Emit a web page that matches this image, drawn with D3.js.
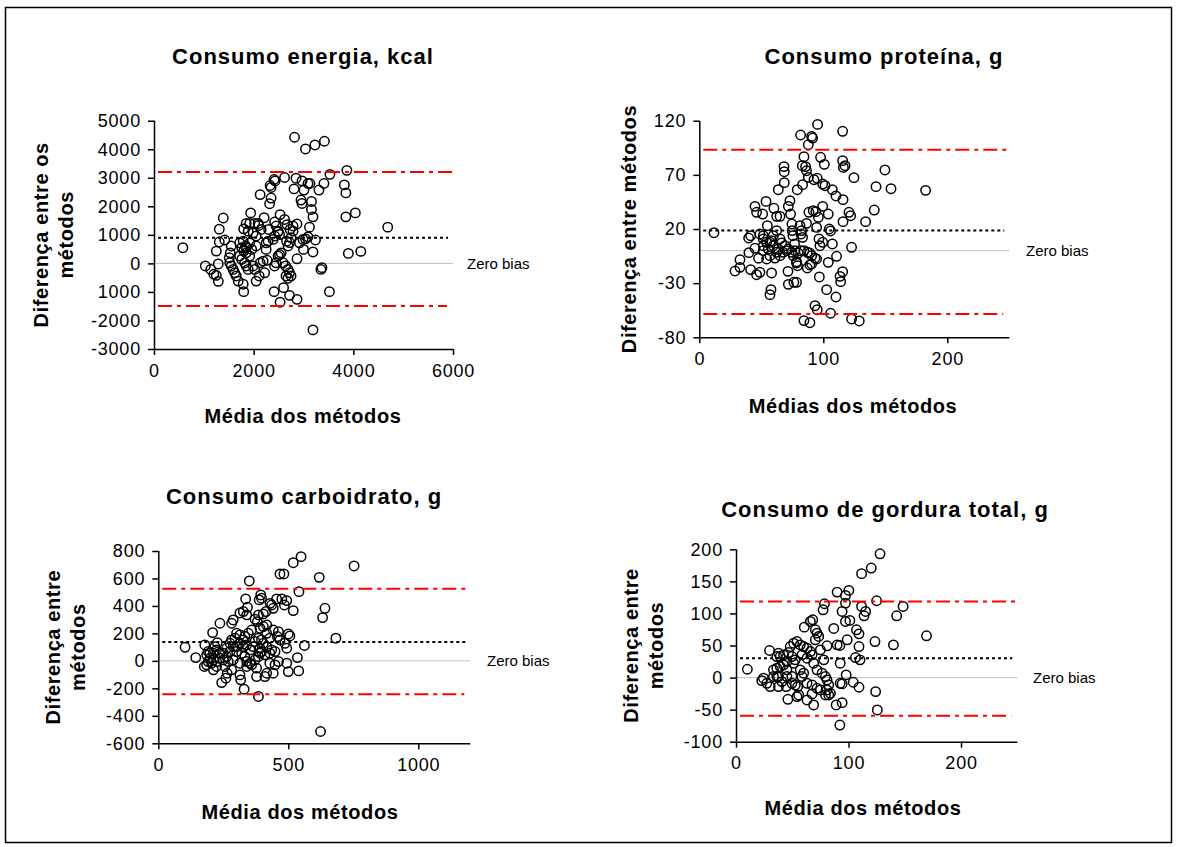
<!DOCTYPE html>
<html>
<head>
<meta charset="utf-8">
<script src="https://cdnjs.cloudflare.com/ajax/libs/d3/7.8.5/d3.min.js"></script>
<style>
    body { margin: 0; background: #fff; }
    svg { display: block; font-family: "Liberation Sans", Arial, sans-serif; }
    .title { font-size: 22px; font-weight: bold; letter-spacing: 1px; }
    .axis-title { font-size: 20px; font-weight: bold; letter-spacing: 0.6px; }
    .zero-label { font-size: 15px; }
</style>
</head>
<body>
<div id="chart"></div>
<script>
// ---- data ----
const panelTitles = ["Consumo energia, kcal", "Consumo proteína, g", "Consumo carboidrato, g", "Consumo de gordura total, g"];
const xTitles = ["Média dos métodos", "Médias dos métodos", "Média dos métodos", "Média dos métodos"];
const yTitles = [["Diferença entre os", "métodos"], ["Diferença entre métodos"], ["Diferença entre", "métodos"], ["Diferença entre", "métodos"]];
const zeroLabel = "Zero bias";

// [mean, difference]
const energyPoints = [
    [2820,4420],[3040,4010],[3230,4150],[3420,4280],[3870,3260],[3530,3120],[2850,2985],[2620,3010],[2410,2940],[2430,2890],
    [2330,2730],[2350,2660],[2970,2890],[3090,2800],[3130,2800],[2810,2610],[3010,2570],[3310,2570],[3410,2800],[3820,2750],
    [3850,2470],[2130,2410],[2350,2290],[2320,2090],[2950,2220],[2970,2100],[3160,2170],[3160,1890],[3190,1630],[3850,1630],
    [4040,1770],[4690,1270],[1390,1590],[1310,1200],[1310,750],[1420,820],[1250,430],[1030,-90],[1140,-210],[1200,-380],
    [1250,-420],[1290,-630],[1290,-20],[580,550],[1940,1770],[1850,1400],[1920,1400],[2020,1400],[2090,1400],[2210,1600],
    [1800,1210],[1890,1130],[1990,1070],[2050,960],[2100,1330],[2150,1190],[2300,1190],[2420,1450],[2450,1310],[2490,1130],
    [2520,1010],[2530,1710],[2620,1540],[2670,1360],[2730,1190],[2790,1310],[2870,1380],[2790,1130],[2750,900],[2720,730],
    [2690,610],[3040,860],[3090,930],[3240,820],[3120,1270],[3000,490],[3190,400],[3900,350],[4150,420],[3350,-210],
    [3370,-150],[3520,-990],[2870,160],[2250,720],[2290,780],[2250,490],[2050,610],[1720,720],[1790,780],[1840,610],
    [1760,550],[1800,430],[1850,370],[1920,260],[1550,610],[1530,370],[1510,200],[1520,20],[1550,-90],[1590,-210],
    [1620,-330],[1650,-440],[1690,-620],[1790,-730],[1800,-990],[2050,-620],[2110,-440],[2220,-330],[1990,-90],[2020,-210],
    [1720,260],[1760,140],[1820,20],[1850,-90],[1890,-210],[2130,20],[2190,80],[2270,110],[2420,-90],[2450,20],
    [2490,260],[2520,310],[2550,370],[2590,20],[2640,-90],[2690,-210],[2720,-330],[2750,-440],[2650,-440],[2690,-520],
    [2410,-990],[2600,-850],[2530,-1360],[2720,-1120],[2870,-1260],[3190,-2330],[2390,840],[2420,960],[2490,1100],[2990,840],
    [2920,720],[2660,780],[1920,720],[1960,490],[1850,550]
];

const proteinPoints = [
    [11.8,16.6],[95.4,116.6],[115.6,110.2],[81.7,106.8],[90.6,105.5],[91.4,104],[87.9,97.8],[84.4,86.8],[83.1,78.5],[85.7,77.6],
    [86.5,73.8],[97.8,86.2],[100.8,79.7],[115.6,83.1],[116.2,76.9],[117.5,78.5],[149.7,74.5],[124.7,67.4],[68.3,77.6],[68.5,72.9],
    [68.5,62.8],[63.7,56.3],[79,56.3],[83.3,60.9],[87.9,67.7],[92.5,65.5],[95.1,66.8],[99.5,61.5],[101.4,60],[107.3,56.3],
    [110.2,50.5],[115.9,47.1],[142.5,59.1],[154.6,57.2],[182.5,55.7],[141.1,37.5],[120.7,35.4],[122,32.3],[134.1,26.8],[115.9,26.8],
    [104.8,20],[105.8,18.2],[122.8,3.1],[110.7,-5.2],[104,-10.8],[115.6,-19.4],[113.5,-23.7],[114,-28.6],[102.7,-36],[110.2,-42.8],
    [93.3,-50.8],[95.1,-54.5],[105.9,-57.8],[84.4,-64.6],[89.2,-66.5],[122.8,-63.1],[129,-64.9],[96.8,-24.3],[71.8,-31.1],[76.3,-29.2],
    [78.4,-29.2],[57.8,-36],[57,-40.6],[71.5,-19.1],[78.4,-10.2],[79.2,-13.9],[58.3,-20.6],[48.9,-20],[46.2,-22.2],[41.4,-17.5],
    [28.8,-18.8],[32.8,-15.4],[32.8,-8.3],[40,-1.8],[44.9,2.2],[47.8,-7],[39.8,11.7],[41.4,13.8],[51.6,13.8],[51.6,10.8],
    [44.9,40.9],[46.2,35.4],[51.1,33.8],[53.8,45.5],[60.2,39.1],[62.4,31.7],[65.1,31.7],[71.8,40.9],[73.1,46.2],[73.6,33.8],
    [54.9,23.1],[74.7,24.6],[74.9,18.5],[75.5,13.8],[76.8,6.2],[81.2,23.1],[82.5,18.5],[82,15.4],[83.3,12.3],[86.5,25.2],
    [88.4,35.4],[91.9,36.9],[94,36],[96,30.8],[99.5,40.9],[104,33.8],[94.6,21.5],[96.5,10.8],[97.3,4.6],[81.7,0],
    [84.4,0],[87.1,-1.5],[89.2,-2.2],[90.6,-4.6],[78.4,-11.4],[87.1,-16],[89.2,-13.2],[90.6,-12.3],[93.3,-7],[94.6,-7.7],
    [107.3,6.2],[99.5,7.7],[62.4,18.5],[59.7,13.8],[57,7.7],[59.7,4.6],[62.4,-1.5],[57,-4.6],[61,-6.8],[63.7,1.5],
    [66.4,7.1],[69.1,4.6],[70.4,0],[54.3,7.7],[51.6,4.6],[55.6,1.5],[58.3,9.2],[65.1,10.8],[67.7,-1.5],[71.8,1.5],
    [74.5,-1.5],[65.1,-4.6],[48.9,15.4],[51.6,0],[54.3,-7.7],[75.8,-4.6],[77.1,0],[79.8,-2.2]
];

const carbPoints = [
    [549,759],[519,715],[468,633],[483,633],[619,608],[753,691],[350,582],[541,504],[641,383],[632,315],
    [683,165],[562,112],[535,24],[540,-73],[624,-514],[385,-259],[330,-206],[394,480],[397,456],[388,444],
    [336,451],[343,390],[455,451],[475,451],[494,439],[485,407],[436,407],[430,419],[442,383],[519,366],
    [414,359],[404,342],[385,335],[372,303],[381,286],[314,349],[327,359],[340,335],[288,298],[282,274],
    [237,274],[209,206],[227,133],[218,104],[103,99],[144,24],[177,-41],[186,-29],[179,116],[192,68],
    [199,19],[205,-17],[212,-65],[244,-158],[260,-126],[265,-90],[282,-65],[314,-102],[317,-138],[378,-53],
    [378,-114],[410,-114],[417,-90],[442,-90],[429,-17],[449,-29],[462,-5],[494,-17],[500,-78],[494,92],
    [487,128],[468,153],[458,177],[442,225],[462,213],[500,196],[506,182],[417,201],[429,165],[404,128],
    [391,92],[397,68],[385,32],[372,7],[353,-17],[340,-5],[333,32],[321,56],[301,68],[288,104],
    [276,128],[263,92],[250,56],[237,19],[224,-5],[212,7],[199,56],[417,262],[404,250],[391,238],
    [359,225],[346,201],[333,177],[314,189],[301,201],[295,165],[282,153],[365,104],[353,80],[327,104],
    [314,128],[301,104],[276,68],[263,32],[250,7],[237,56],[224,80],[212,56],[186,44],[192,-5],
    [224,-41],[256,-41],[269,-5],[288,7],[314,-17],[340,-41],[359,-29],[327,153],[340,116],[372,141],
    [385,165],[397,153],[417,104],[436,80],[449,68],[391,56],[410,44],[429,56]
];

const fatPoints = [
    [10.1,13],[128,193],[120.2,170.8],[111.6,162],[89.9,133.3],[100.3,135.9],[97.3,128.1],[78.6,115.1],[77.4,105.7],[125,119.8],
    [111.6,110.9],[115.2,103.1],[113.8,96.3],[94.3,103.1],[97.3,116.1],[148.5,110.9],[142.8,96.3],[169.3,65.1],[139.9,51],[123.5,56.2],
    [97.3,87.5],[101.2,89.1],[86.9,76.6],[107.1,74.5],[109.3,68.2],[98.8,58.9],[109.3,48.4],[110.2,27.6],[106.2,31.2],[89.9,51],
    [92.3,50],[92.6,22.4],[92.6,-8.9],[94.3,-39.1],[89,-42.7],[92.3,-74],[97.9,4.2],[94.3,-9.9],[104.2,-7.3],[109.3,-15.1],
    [124.1,-21.9],[125.6,-50.5],[68.2,90.1],[66.1,87.5],[60.7,78.6],[70.5,74.5],[72,69.3],[73.5,64.1],[70.5,58.9],[80.9,49.5],
    [75,43.2],[78,27.6],[69,22.4],[72,12],[76.5,6.8],[79.5,1.6],[80.9,-3.6],[82.4,-11.5],[80.9,-19.3],[82.4,-27.1],
    [83.9,-24.5],[79.5,-27.1],[75,-19.3],[72,-16.7],[69,-42.7],[63.1,-34.9],[67.6,-25.5],[67.6,-11.5],[63.1,-8.9],[58.6,1.6],
    [54.8,-14.1],[55.7,-27.1],[54.2,-29.7],[46.1,-33.9],[44.6,-14.1],[45.2,12],[52.7,27.6],[57.1,12],[60.1,6.8],[49.7,1.6],
    [45.2,1.6],[29.8,42.2],[37.8,38],[36.3,32.8],[39.3,32.8],[42.3,35.4],[46.7,39.1],[49.7,32.8],[51.2,22.4],[45.2,25],
    [42.3,19.8],[39.3,17.2],[36.3,14.6],[33.3,12],[48.2,48.4],[51.2,53.6],[54.2,56.2],[57.1,51],[60.1,48.4],[63.1,45.8],
    [66.1,40.6],[67.6,35.4],[63.1,30.2],[58.6,35.4],[37.8,1.6],[37.8,-14.1],[30.4,-14.1],[27.4,-8.9],[24.4,-1],[22.9,-4.7],
    [33.3,1.6],[36.3,1.6],[40.8,-6.3],[49.7,-8.9],[52.7,-11.5]
];

// bias line and limits of agreement: [bias, upper, lower]
const energyLines = [900, 3206, -1490];
const proteinLines = [18.5, 93.2, -58.5];
const carbLines = [138, 526, -242];
const fatLines = [30.2, 118.7, -59.4];

// axis domains and ticks
const xDomains = [[0, 6000], [0, 250], [0, 1200], [0, 250]];
const yDomains = [[-3000, 5000], [-80, 120], [-600, 800], [-100, 200]];
const xTicks = [[0, 2000, 4000, 6000], [0, 100, 200], [0, 500, 1000], [0, 100, 200]];
const yTicks = [
    [-3000, -2000, -1000, 0, 1000, 2000, 3000, 4000, 5000],
    [-80, -30, 20, 70, 120],
    [-600, -400, -200, 0, 200, 400, 600, 800],
    [-100, -50, 0, 50, 100, 150, 200]
];
// the picture shows the -1000 label without its minus sign
const energyYLabels = ["-3000", "-2000", "1000", "0", "1000", "2000", "3000", "4000", "5000"];

// ---- layout ----
const W = 1178, H = 847;
const frames = [
    { l: 154, r: 453, t: 120.7, b: 349, titleX: 303, titleY: 64, xTitleX: 303, xTitleY: 423, yTitleX: [48, 73], zeroX: 467 },
    { l: 699.3, r: 1009.3, t: 120.7, b: 337.3, titleX: 884, titleY: 64, xTitleX: 853, xTitleY: 413, yTitleX: [636], zeroX: 1026 },
    { l: 158.3, r: 470.3, t: 551, b: 743.3, titleX: 304, titleY: 504, xTitleX: 300, xTitleY: 819, yTitleX: [60, 85], zeroX: 487 },
    { l: 736, r: 1017.3, t: 549.3, b: 741.7, titleX: 885, titleY: 517, xTitleX: 863, xTitleY: 815, yTitleX: [638, 663], zeroX: 1033 }
];

const svg = d3.select("#chart").append("svg")
    .attr("width", W)
    .attr("height", H);

// outer frame
svg.append("rect")
    .attr("x", 5.5).attr("y", 7.5)
    .attr("width", 1166).attr("height", 835)
    .attr("fill", "none")
    .attr("stroke", "#000")
    .attr("stroke-width", 1.5);

const allPoints = [energyPoints, proteinPoints, carbPoints, fatPoints];
const allLines = [energyLines, proteinLines, carbLines, fatLines];

function drawPanel(i) {
    const f = frames[i];
    const g = svg.append("g").attr("class", "panel");

    const x = d3.scaleLinear().domain(xDomains[i]).range([f.l, f.r]);
    const y = d3.scaleLinear().domain(yDomains[i]).range([f.b, f.t]);

    // zero line
    g.append("line")
        .attr("x1", f.l).attr("x2", f.r)
        .attr("y1", y(0)).attr("y2", y(0))
        .attr("stroke", "#c0c0c0").attr("stroke-width", 1);

    // points
    g.selectAll("circle")
        .data(allPoints[i])
        .enter().append("circle")
        .attr("cx", d => x(d[0]))
        .attr("cy", d => y(d[1]))
        .attr("r", 4.7)
        .attr("fill", "none")
        .attr("stroke", "#000")
        .attr("stroke-width", 1.5);

    const [bias, upper, lower] = allLines[i];

    // bias (dotted)
    g.append("line")
        .attr("x1", f.l + 4).attr("x2", f.r - 5)
        .attr("y1", y(bias)).attr("y2", y(bias))
        .attr("stroke", "#000").attr("stroke-width", 2)
        .attr("stroke-dasharray", "3,3");

    // limits of agreement (dash-dot red)
    [upper, lower].forEach((v, k) => {
        g.append("line")
            .attr("x1", f.l + 4).attr("x2", f.r - (k === 1 ? 6 : 0))
            .attr("y1", y(v)).attr("y2", y(v))
            .attr("stroke", "#ff0000").attr("stroke-width", 2)
            .attr("stroke-dasharray", "14,5,4,5");
    });

    // axes
    const yAxis = d3.axisLeft(y)
        .tickValues(yTicks[i])
        .tickSize(6)
        .tickPadding(7)
        .tickFormat((d, k) => i === 0 ? energyYLabels[k] : d);
    const xAxis = d3.axisBottom(x)
        .tickValues(xTicks[i])
        .tickSize(6)
        .tickPadding(9)
        .tickFormat(d => d);

    const gy = g.append("g").attr("transform", `translate(${f.l},0)`).call(yAxis);
    const gx = g.append("g").attr("transform", `translate(0,${f.b})`).call(xAxis);
    [gx, gy].forEach(ax => {
        ax.select(".domain").attr("stroke", "#000").attr("stroke-width", 1.5);
        ax.selectAll(".tick line").attr("stroke", "#000").attr("stroke-width", 1.5);
        ax.selectAll(".tick text")
            .style("font-family", "'Liberation Sans', Arial, sans-serif")
            .style("font-size", "18px")
            .style("letter-spacing", "0.8px")
            .attr("fill", "#000");
    });
    gy.select(".domain").attr("d", `M0.5,${f.t}V${f.b}`);
    gx.select(".domain").attr("d", `M${f.l},0.5H${f.r}`);

    // titles
    g.append("text")
        .attr("class", "title")
        .attr("x", f.titleX).attr("y", f.titleY)
        .attr("text-anchor", "middle")
        .text(panelTitles[i]);

    g.append("text")
        .attr("class", "axis-title")
        .attr("x", f.xTitleX).attr("y", f.xTitleY)
        .attr("text-anchor", "middle")
        .text(xTitles[i]);

    const cy = (f.t + f.b) / 2;
    yTitles[i].forEach((line, k) => {
        g.append("text")
            .attr("class", "axis-title")
            .attr("transform", `translate(${f.yTitleX[k]},${cy}) rotate(-90)`)
            .attr("text-anchor", "middle")
            .text(line);
    });

    g.append("text")
        .attr("class", "zero-label")
        .attr("x", f.zeroX).attr("y", y(0))
        .attr("dy", "0.35em")
        .text(zeroLabel);
}

for (let i = 0; i < 4; i++) drawPanel(i);
</script>
</body>
</html>
